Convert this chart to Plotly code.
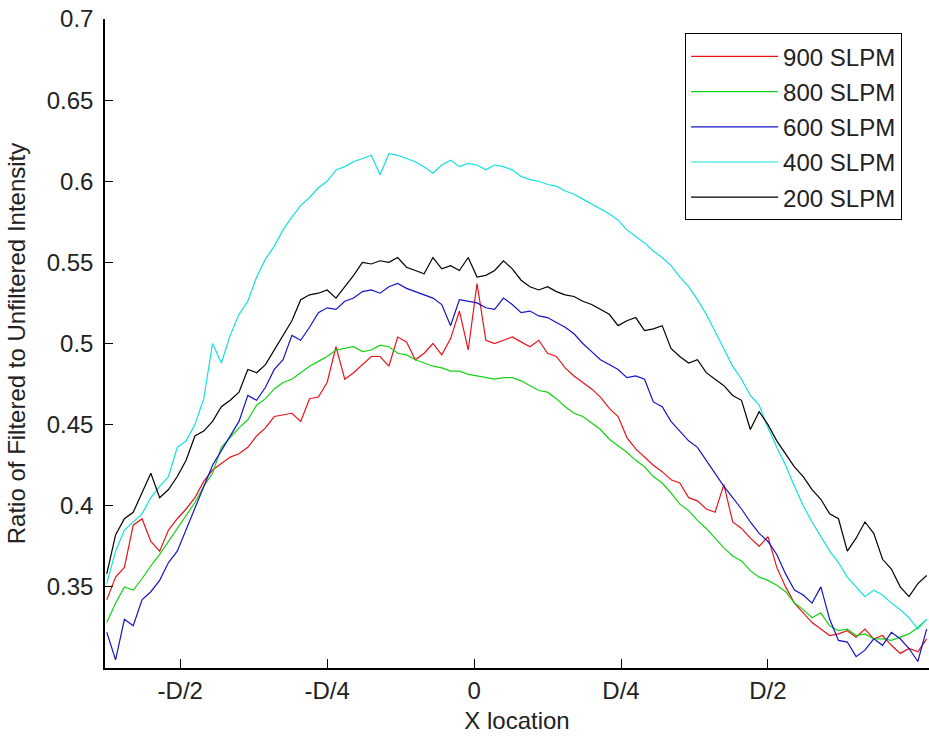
import plotly.graph_objects as go

# x positions in units of D
x_loc = [round(-0.625 + 0.015 * i, 4) for i in range(94)]

slpm_900 = [0.342, 0.356, 0.362, 0.388, 0.392, 0.378, 0.372, 0.385, 0.392, 0.398,
            0.405, 0.415, 0.422, 0.426, 0.430, 0.432, 0.436, 0.443, 0.448, 0.455,
            0.456, 0.457, 0.452, 0.466, 0.467, 0.476, 0.498, 0.478, 0.482, 0.487,
            0.492, 0.492, 0.486, 0.504, 0.501, 0.490, 0.494, 0.500, 0.493, 0.503,
            0.520, 0.496, 0.537, 0.502, 0.500, 0.502, 0.504, 0.501, 0.498, 0.502,
            0.494, 0.492, 0.485, 0.480, 0.476, 0.472, 0.467, 0.460, 0.455, 0.442,
            0.435, 0.430, 0.425, 0.421, 0.416, 0.414, 0.405, 0.403, 0.398, 0.396,
            0.413, 0.390, 0.386, 0.380, 0.375, 0.381, 0.362, 0.350, 0.340, 0.334,
            0.328, 0.324, 0.320, 0.321, 0.323, 0.319, 0.324, 0.318, 0.320, 0.314,
            0.309, 0.312, 0.310, 0.318]

slpm_800 = [0.328, 0.340, 0.350, 0.348, 0.355, 0.363, 0.370, 0.378, 0.386, 0.394,
            0.402, 0.412, 0.420, 0.436, 0.442, 0.448, 0.453, 0.462, 0.466, 0.472,
            0.476, 0.478, 0.482, 0.486, 0.489, 0.492, 0.496, 0.497, 0.498, 0.495,
            0.496, 0.499, 0.498, 0.494, 0.493, 0.490, 0.488, 0.486, 0.485, 0.483,
            0.483, 0.481, 0.480, 0.479, 0.478, 0.479, 0.479, 0.477, 0.474, 0.471,
            0.470, 0.466, 0.461, 0.457, 0.455, 0.451, 0.447, 0.441, 0.437, 0.433,
            0.428, 0.424, 0.418, 0.414, 0.408, 0.401, 0.397, 0.391, 0.386, 0.380,
            0.374, 0.369, 0.366, 0.360, 0.356, 0.354, 0.351, 0.347, 0.340, 0.336,
            0.331, 0.334, 0.326, 0.323, 0.324, 0.320, 0.321, 0.318, 0.318, 0.317,
            0.319, 0.321, 0.325, 0.330]

slpm_600 = [0.322, 0.305, 0.330, 0.326, 0.342, 0.347, 0.354, 0.365, 0.372, 0.385,
            0.398, 0.412, 0.425, 0.434, 0.443, 0.452, 0.468, 0.465, 0.473, 0.484,
            0.490, 0.505, 0.502, 0.510, 0.519, 0.522, 0.521, 0.526, 0.528, 0.532,
            0.533, 0.531, 0.535, 0.537, 0.534, 0.532, 0.530, 0.528, 0.524, 0.511,
            0.527, 0.526, 0.525, 0.522, 0.521, 0.528, 0.524, 0.519, 0.520, 0.517,
            0.516, 0.513, 0.510, 0.506, 0.500, 0.495, 0.490, 0.487, 0.484, 0.479,
            0.480, 0.478, 0.464, 0.461, 0.452, 0.446, 0.440, 0.436, 0.428, 0.420,
            0.412, 0.405, 0.398, 0.390, 0.383, 0.378, 0.370, 0.358, 0.348, 0.345,
            0.340, 0.350, 0.330, 0.317, 0.316, 0.307, 0.311, 0.318, 0.314, 0.322,
            0.318, 0.312, 0.304, 0.324]

slpm_400 = [0.352, 0.372, 0.385, 0.390, 0.395, 0.405, 0.412, 0.418, 0.436, 0.440,
            0.450, 0.466, 0.500, 0.488, 0.505, 0.518, 0.526, 0.541, 0.552, 0.560,
            0.570, 0.578, 0.585, 0.590, 0.596, 0.600, 0.607, 0.609, 0.612, 0.614,
            0.616, 0.604, 0.617, 0.616, 0.614, 0.612, 0.609, 0.605, 0.610, 0.613,
            0.609, 0.611, 0.610, 0.607, 0.610, 0.609, 0.607, 0.603, 0.601, 0.600,
            0.598, 0.597, 0.594, 0.592, 0.589, 0.586, 0.583, 0.580, 0.576, 0.570,
            0.566, 0.562, 0.557, 0.553, 0.548, 0.541, 0.535, 0.527, 0.518, 0.507,
            0.496, 0.486, 0.478, 0.468, 0.462, 0.448, 0.436, 0.425, 0.412, 0.400,
            0.390, 0.381, 0.372, 0.365, 0.356, 0.350, 0.344, 0.348, 0.345, 0.340,
            0.336, 0.331, 0.324, 0.330]

slpm_200 = [0.358, 0.382, 0.392, 0.396, 0.408, 0.420, 0.405, 0.410, 0.418, 0.428,
            0.443, 0.446, 0.452, 0.461, 0.465, 0.470, 0.484, 0.482, 0.487, 0.496,
            0.505, 0.514, 0.527, 0.530, 0.531, 0.533, 0.528, 0.535, 0.542, 0.550,
            0.549, 0.551, 0.550, 0.553, 0.547, 0.545, 0.543, 0.553, 0.546, 0.548,
            0.545, 0.553, 0.541, 0.542, 0.545, 0.551, 0.546, 0.539, 0.535, 0.533,
            0.535, 0.532, 0.530, 0.529, 0.526, 0.524, 0.521, 0.518, 0.511, 0.514,
            0.516, 0.508, 0.509, 0.511, 0.497, 0.492, 0.488, 0.490, 0.482, 0.478,
            0.474, 0.468, 0.465, 0.447, 0.458, 0.450, 0.440, 0.432, 0.424, 0.418,
            0.410, 0.404, 0.395, 0.392, 0.372, 0.380, 0.390, 0.383, 0.367, 0.361,
            0.350, 0.344, 0.352, 0.357]

series_names = ["900 SLPM", "800 SLPM", "600 SLPM", "400 SLPM", "200 SLPM"]
series_values = [slpm_900, slpm_800, slpm_600, slpm_400, slpm_200]
series_colors = ["#e8141a", "#14d214", "#1414c8", "#14e0e0", "#000000"]

x_tick_vals = [-0.5, -0.25, 0, 0.25, 0.5]
x_tick_text = ["-D/2", "-D/4", "0", "D/4", "D/2"]
y_tick_vals = [0.35, 0.4, 0.45, 0.5, 0.55, 0.6, 0.65, 0.7]
y_tick_text = ["0.35", "0.4", "0.45", "0.5", "0.55", "0.6", "0.65", "0.7"]

FONT = "Liberation Sans, Arial, sans-serif"
TXT = "#222222"

fig = go.Figure()
for name, vals, col in zip(series_names, series_values, series_colors):
    fig.add_trace(go.Scatter(x=x_loc, y=vals, mode="lines", name=name,
                             legendgroup=name,
                             line=dict(color=col, width=1.2)))

fig.update_layout(
    width=929, height=738,
    margin=dict(l=105, r=0, t=19, b=70),
    paper_bgcolor="white", plot_bgcolor="white",
    font=dict(family=FONT, size=24, color=TXT),
    showlegend=True,
    legend=dict(x=0.704, y=0.978, xanchor="left", yanchor="top",
                bgcolor="white", bordercolor="black", borderwidth=1,
                font=dict(size=24, color=TXT), tracegroupgap=1,
                itemwidth=87),
    xaxis=dict(range=[-0.628, 0.774], tickvals=x_tick_vals, ticktext=x_tick_text,
               ticks="inside", ticklen=9, tickcolor="black", tickwidth=1,
               showline=True, linecolor="black", linewidth=1.5,
               showgrid=False, zeroline=False, ticklabelstandoff=0,
               title=dict(text="X location", standoff=10,
                          font=dict(size=24, color=TXT))),
    yaxis=dict(range=[0.30, 0.70], tickvals=y_tick_vals, ticktext=y_tick_text,
               ticks="inside", ticklen=8, tickcolor="black", tickwidth=1,
               showline=True, linecolor="black", linewidth=1.5,
               showgrid=False, zeroline=False, ticklabelstandoff=5,
               title=dict(text="Ratio of Filtered to Unfiltered Intensity",
                          standoff=14, font=dict(size=24, color=TXT))),
)

fig.write_html("out.html",
               config={"displayModeBar": False},
               post_script="document.body.style.margin='0px';document.body.style.overflow='hidden';")
